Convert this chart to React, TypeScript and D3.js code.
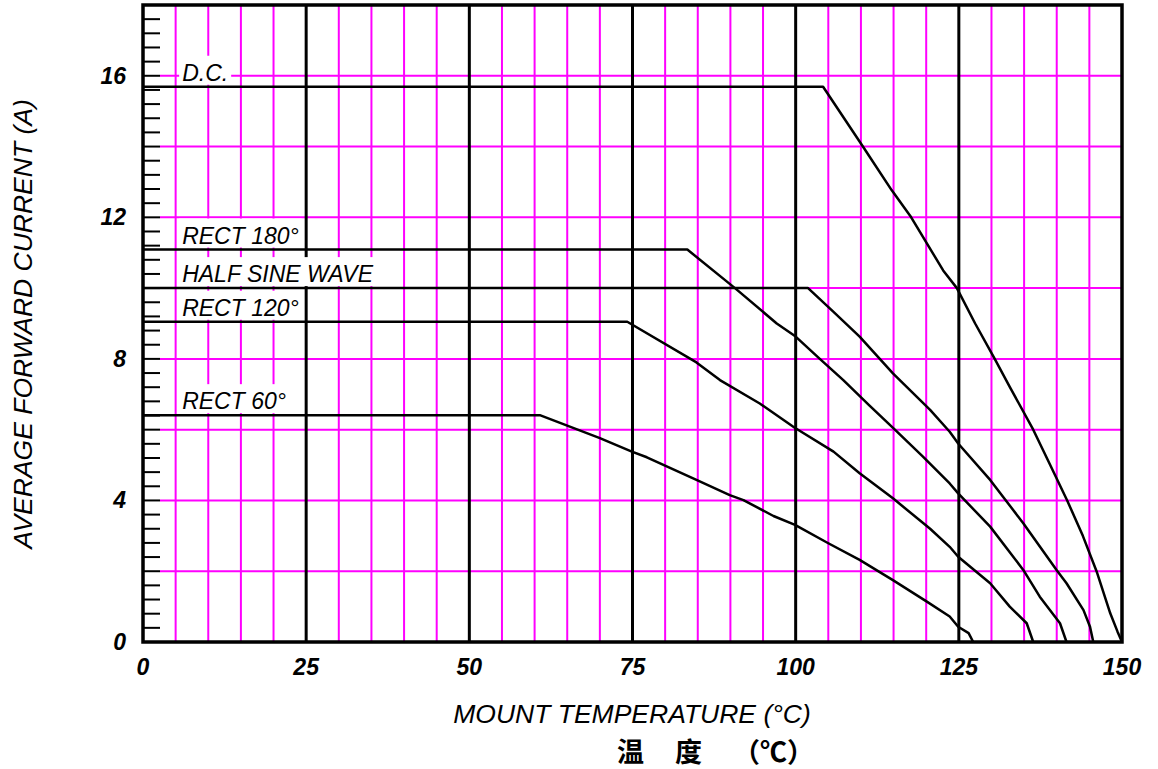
import * as d3 from "d3";

type Pt = [number, number];

// mount temperature (°C), average forward current (A)
const dcCurve: Pt[] = [
  [0, 15.69], [104.2, 15.69], [110.3, 14.0], [114.7, 12.77], [117.7, 12.0],
  [122.6, 10.5], [124.7, 10.0], [127.5, 9.0], [130.5, 8.0], [132.8, 7.21],
  [136.4, 6.0], [139.0, 5.0], [141.6, 4.0], [144.0, 3.0], [146.1, 2.0],
  [148.2, 0.81], [149.3, 0.3], [150, 0],
];
const rect180Curve: Pt[] = [
  [0, 11.09], [83.4, 11.09], [90.7, 10.0], [97.1, 9.0], [100, 8.63],
  [103.7, 8.0], [107.3, 7.4], [111.2, 6.7], [115.2, 6.0], [119.5, 5.24],
  [123.6, 4.48], [124.9, 4.2], [129.8, 3.26], [134.9, 2.03], [137.4, 1.28],
  [140.5, 0.53], [141.5, 0],
];
const halfSineCurve: Pt[] = [
  [0, 10.0], [101.9, 10.0], [105.8, 9.33], [109.8, 8.63], [114.9, 7.59],
  [120.6, 6.56], [123.6, 5.94], [124.9, 5.61], [129.8, 4.58], [134.9, 3.35],
  [140.0, 2.03], [141.5, 1.66], [144.1, 0.9], [145.1, 0.43], [145.6, 0],
];
const rect120Curve: Pt[] = [
  [0, 9.05], [74.2, 9.05], [84.8, 7.9], [88.4, 7.4], [94.5, 6.74],
  [99.8, 6.06], [105.8, 5.38], [109.8, 4.77], [114.9, 4.06], [120.6, 3.2],
  [123.6, 2.69], [124.9, 2.41], [129.8, 1.66], [132.8, 1.0], [135.4, 0.53],
  [136.4, 0],
];
const rect60Curve: Pt[] = [
  [0, 6.41], [60.8, 6.41], [70.0, 5.76], [74.9, 5.38], [77.2, 5.22],
  [84.8, 4.58], [89.9, 4.15], [92.0, 4.01], [96.6, 3.56], [99.9, 3.31],
  [105.0, 2.79], [109.8, 2.32], [114.9, 1.75], [120.1, 1.14], [123.6, 0.72],
  [124.9, 0.43], [126.5, 0.25], [127.2, 0],
];

const curves = [dcCurve, rect180Curve, halfSineCurve, rect120Curve, rect60Curve];
const curveLabels = ["D.C.", "RECT 180°", "HALF SINE WAVE", "RECT 120°", "RECT 60°"];

const xTickValues = [0, 25, 50, 75, 100, 125, 150];
const yTickValues = [0, 4, 8, 12, 16];

const xTitle = "MOUNT TEMPERATURE (°C)";
const yTitle = "AVERAGE FORWARD CURRENT (A)";

const width = 1158;
const height = 769;
const marginLeft = 143;
const marginRight = 36;
const marginTop = 5;
const marginBottom = 127;

const labelFont = "italic 23px 'Liberation Sans', Arial, sans-serif";

function textWidth(s: string, font: string) {
  const c = document.createElement("canvas").getContext("2d");
  if (!c) return s.length * 12;
  c.font = font;
  return c.measureText(s).width;
}

export default function App() {
  const x = d3.scaleLinear().domain([0, 150]).range([marginLeft, width - marginRight]);
  const y = d3.scaleLinear().domain([0, 18]).range([height - marginBottom, marginTop]);

  const line = d3
    .line<Pt>()
    .x((d) => x(d[0]))
    .y((d) => y(d[1]));

  const magentaX = d3.range(5, 150, 5).filter((v) => v % 25 !== 0);
  const blackX = d3.range(25, 150, 25);
  const magentaY = d3.range(2, 18, 2);
  const minorTicks = d3.range(0, 18.001, 0.4);
  const tickLen = 17;

  return (
    <div style={{ position: "absolute", left: 0, top: 0 }}>
      <svg width={width} height={height} style={{ display: "block", background: "#fff" }}>
        {/* magenta grid */}
        <g stroke="#ff00ff" strokeWidth={2}>
          {magentaX.map((v) => (
            <line key={"mx" + v} x1={x(v)} x2={x(v)} y1={y(0)} y2={y(18)} />
          ))}
          {magentaY.map((v) => (
            <line key={"my" + v} x1={x(0) + tickLen} x2={x(150)} y1={y(v)} y2={y(v)} />
          ))}
        </g>
        <g stroke="#000" strokeWidth={3}>
          {blackX.map((v) => (
            <line key={"bx" + v} x1={x(v)} x2={x(v)} y1={y(0)} y2={y(18)} />
          ))}
        </g>

        {/* curve labels with white boxes */}
        {curves.map((c, i) => {
          const ly = y(c[0][1]);
          const w = textWidth(curveLabels[i], labelFont);
          const lx = x(6);
          return (
            <g key={"lab" + i}>
              <rect x={lx - 3} y={ly - 31} width={w + 6} height={29} fill="#fff" />
              <text x={lx} y={ly - 6} style={{ font: labelFont }} fill="#000">
                {curveLabels[i]}
              </text>
            </g>
          );
        })}

        {/* curves */}
        <g fill="none" stroke="#000" strokeWidth={2.5} strokeLinejoin="round">
          {curves.map((c, i) => (
            <path key={"c" + i} d={line(c) || ""} />
          ))}
        </g>

        {/* minor ticks on y */}
        <g stroke="#000" strokeWidth={2}>
          {minorTicks.map((v, i) => (
            <line key={"t" + i} x1={x(0)} x2={x(0) + tickLen} y1={y(v)} y2={y(v)} />
          ))}
        </g>

        {/* frame */}
        <rect
          x={x(0)}
          y={y(18)}
          width={x(150) - x(0)}
          height={y(0) - y(18)}
          fill="none"
          stroke="#000"
          strokeWidth={3.5}
        />

        {/* tick labels */}
        <g
          fontFamily="'Liberation Sans', Arial, sans-serif"
          fontStyle="italic"
          fontWeight="bold"
          fontSize={23}
          fill="#000"
        >
          {xTickValues.map((v) => (
            <text key={"xl" + v} x={x(v)} y={y(0) + 33} textAnchor="middle">
              {v}
            </text>
          ))}
          {yTickValues.map((v) => (
            <text key={"yl" + v} x={126} y={y(v) + 8} textAnchor="end">
              {v}
            </text>
          ))}
        </g>

        {/* axis titles */}
        <text
          x={632}
          y={723}
          textAnchor="middle"
          fontFamily="'Liberation Sans', Arial, sans-serif"
          fontStyle="italic"
          fontSize={26.5}
          fill="#000"
        >
          {xTitle}
        </text>
        <text
          transform={`translate(32,324) rotate(-90)`}
          textAnchor="middle"
          fontFamily="'Liberation Sans', Arial, sans-serif"
          fontStyle="italic"
          fontSize={26.5}
          fill="#000"
        >
          {yTitle}
        </text>
        <text
          y={762}
          fontFamily="'Noto Sans CJK SC', sans-serif"
          fontWeight="bold"
          fontSize={27}
          fill="#000"
        >
          <tspan x={617}>温</tspan>
          <tspan x={675}>度</tspan>
          <tspan x={733}>（℃）</tspan>
        </text>
      </svg>
    </div>
  );
}
